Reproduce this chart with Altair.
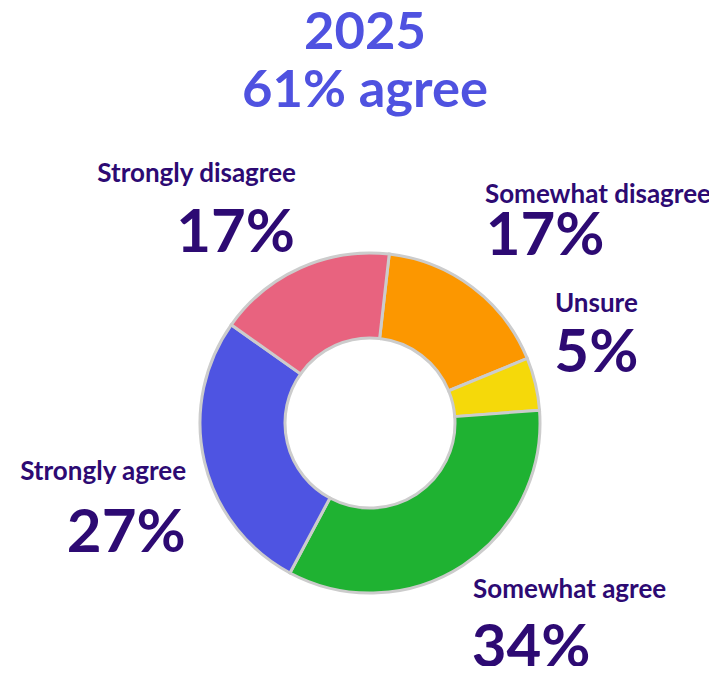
import altair as alt
import pandas as pd

categories = ["Somewhat disagree", "Unsure", "Somewhat agree", "Strongly agree", "Strongly disagree"]
values = [17, 5, 34, 27, 17]
colors = ["#fc9700", "#f5d90a", "#1fb232", "#4e54e2", "#e8637f"]
title_lines = ["2025", "61% agree"]

df = pd.DataFrame({"category": categories, "value": values, "order": list(range(len(categories)))})

OFFSET = 0.1134  # start angle (radians) of first slice
TAU = 6.283185307
theta_scale = alt.Scale(domain=[0, 100], range=[OFFSET, OFFSET + TAU])
CX, CY = 362, 415
FONT = "Lato"
LABEL_COLOR = "#2d0a73"

base = alt.Chart(df).transform_window(
    cum="sum(value)", sort=[alt.SortField("order")], frame=[None, 0]
).transform_calculate(
    start="datum.cum - datum.value",
    mid="datum.cum - datum.value / 2",
    pct="datum.value + '%'",
)

arcs = base.mark_arc(innerRadius=85, outerRadius=170, stroke="#cccccc", strokeWidth=3).encode(
    theta=alt.Theta("start:Q", scale=theta_scale),
    theta2="cum:Q",
    color=alt.Color("category:N", scale=alt.Scale(domain=categories, range=colors), legend=None),
    x=alt.value(CX),
    y=alt.value(CY),
)

# per-category label layout: (align, name dx, name dy, pct dx, pct dy)
layout = {
    "Strongly disagree": ("right", 11.7, -49.3, 10.7, 20.7),
    "Somewhat disagree": ("left", -11.7, -52.4, -11, -0.4),
    "Unsure": ("left", -19.4, -62.7, -20, -2.7),
    "Strongly agree": ("right", 20.4, 8.7, 20, 80.7),
    "Somewhat agree": ("left", -11.7, -1, -13, 68),
}

layers = [arcs]
for cat, (align, ndx, ndy, pdx, pdy) in layout.items():
    sub = base.transform_filter(alt.datum.category == cat)
    enc = dict(
        theta=alt.Theta("mid:Q", scale=theta_scale),
        x=alt.value(CX),
        y=alt.value(CY),
    )
    layers.append(
        sub.mark_text(
            radius=210, align=align, baseline="alphabetic", dx=ndx, dy=ndy,
            font=FONT, fontSize=26, fontWeight="bold", color=LABEL_COLOR,
        ).encode(text="category:N", **enc)
    )
    layers.append(
        sub.mark_text(
            radius=210, align=align, baseline="alphabetic", dx=pdx, dy=pdy,
            font=FONT, fontSize=60, fontWeight="bold", color=LABEL_COLOR,
        ).encode(text="pct:N", **enc)
    )

title = alt.Chart(pd.DataFrame({"t": [0]})).mark_text(
    text=title_lines, align="center", baseline="alphabetic", lineHeight=58,
    font=FONT, fontSize=52.5, fontWeight="bold", color="#4f52e0",
).encode(x=alt.value(357), y=alt.value(41))
layers.append(title)

chart = alt.layer(*layers).properties(
    width=701, height=658, padding=0, autosize="none"
).configure_view(stroke=None)

chart.save("out.html", embed_options={"renderer": "svg", "actions": False})
